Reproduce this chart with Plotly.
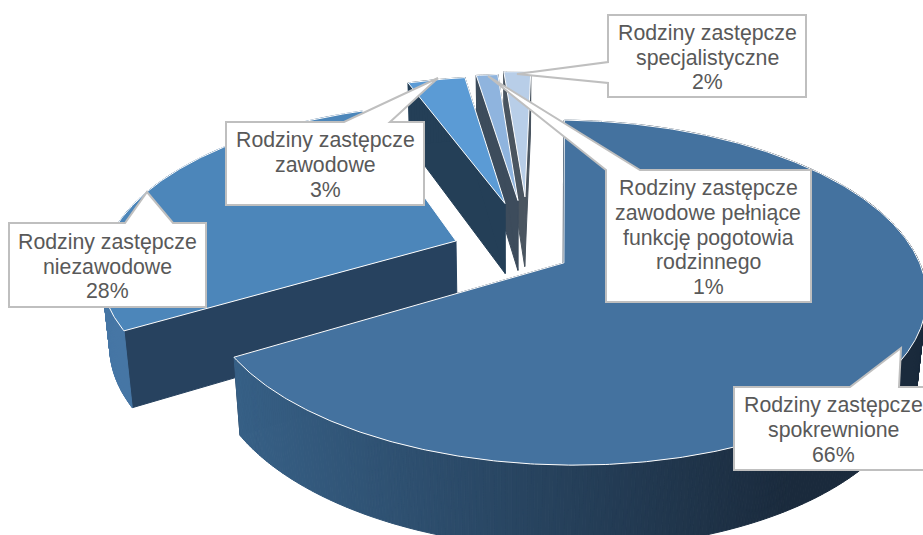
import numpy as np
import plotly.graph_objects as go

# dane wykresu
categories = [
    "Rodziny zastępcze<br>spokrewnione",
    "Rodziny zastępcze<br>niezawodowe",
    "Rodziny zastępcze<br>zawodowe",
    "Rodziny zastępcze<br>zawodowe pełniące<br>funkcję pogotowia<br>rodzinnego",
    "Rodziny zastępcze<br>specjalistyczne",
]
values = [66.0, 28.1, 3.2, 1.2, 1.5]

# kolory: wierzch, sciana, rant (lewy i prawy koniec gradientu)
top_colors = ["#44729f", "#4c86ba", "#5b9bd5", "#8fb4de", "#b8cee8"]
wall_colors = ["#1c3048", "#27425f", "#243f57", "#3d4c5c", "#4a5560"]
rim_left = [(60, 106, 148), (70, 118, 165), (36, 63, 87), (61, 76, 92), (74, 85, 96)]
rim_right = [(26, 42, 60), (60, 100, 140), (36, 63, 87), (61, 76, 92), (74, 85, 96)]

# wysuniecie wycinkow w ukladzie podstawy kola
explode_u = [0.143, -0.164, -0.024, 0.015, 0.036]
explode_v = [-0.078, 0.056, 0.30, 0.32, 0.345]

# rzut perspektywiczny
CX, CY = 513, 250
RX, RY = 351, 163
K = 0.17
M = 0.02
DEPTH = 74
ROTATION = 1.5


def project(u, v, bottom=False):
    w = 1 + K * v + (M if bottom else 0)
    h = DEPTH if bottom else 0
    return CX + RX * u / w, CY - (RY * v - h) / w


def poly(fig, pts, fill, line=None, width=1):
    xs = [p[0] for p in pts] + [pts[0][0]]
    ys = [p[1] for p in pts] + [pts[0][1]]
    fig.add_trace(go.Scatter(x=xs, y=ys, mode="lines", fill="toself", fillcolor=fill,
                             line=dict(color=line or fill, width=width),
                             hoverinfo="skip", showlegend=False))


def draw_slice(fig, i, start, end):
    eu, ev = explode_u[i], explode_v[i]
    a = np.radians(np.linspace(start, end, max(int(end - start) * 2, 8)))
    us = eu + np.sin(a)
    vs = ev + np.cos(a)

    top_pts = [project(u, v) for u, v in zip(us, vs)]
    bot_pts = [project(u, v, True) for u, v in zip(us, vs)]

    # sciany boczne (przy niezawodowych tylko przednia)
    apex_t = project(eu, ev)
    apex_b = project(eu, ev, True)
    for k in ((0,) if i == 1 else (0, -1)):
        poly(fig, [apex_t, top_pts[k], bot_pts[k], apex_b], wall_colors[i])

    # rant z gradientem
    x_min, x_max = 130, 800
    for j in range(len(a) - 1):
        t = min(max((top_pts[j][0] - x_min) / (x_max - x_min), 0), 1)
        c = [round(l + (r - l) * t) for l, r in zip(rim_left[i], rim_right[i])]
        poly(fig, [top_pts[j], top_pts[j + 1], bot_pts[j + 1], bot_pts[j]], f"rgb({c[0]},{c[1]},{c[2]})")

    # wierzch
    poly(fig, [apex_t] + top_pts, top_colors[i], "#ffffff", 1)


# kolejne katy wycinkow z wartosci
total = sum(values)
edges = ROTATION + np.cumsum([0] + values) / total * 360

fig = go.Figure()
for i in [4, 3, 2, 1, 0]:
    draw_slice(fig, i, edges[i], edges[i + 1])

# etykiety z odnosnikami: ramka (x0, y0, x1, y1), wierzcholek i podstawa odnosnika
boxes = [
    dict(box=(734, 387, 930, 470), side="top", base=(850, 899), tip=(901, 348), xc=833),
    dict(box=(9, 223, 206, 307), side="top", base=(125, 173), tip=(147, 192), xc=107),
    dict(box=(226, 122, 424, 205), side="top", base=(344, 390), tip=(438, 78), xc=325),
    dict(box=(606, 170, 811, 302), side="top", base=(606, 640), tip=(488, 76), xc=708),
    dict(box=(608, 15, 806, 97), side="left", base=(62, 83), tip=(517, 74), xc=707),
]

shapes = []
annotations = []
for i, b in enumerate(boxes):
    x0, y0, x1, y1 = b["box"]
    tx, ty = b["tip"]
    p0, p1 = b["base"]
    if b["side"] == "top":
        path = f"M{x0},{y0} L{p0},{y0} L{tx},{ty} L{p1},{y0} L{x1},{y0} L{x1},{y1} L{x0},{y1} Z"
    else:
        path = f"M{x0},{y0} L{x1},{y0} L{x1},{y1} L{x0},{y1} L{x0},{p1} L{tx},{ty} L{x0},{p0} Z"
    shapes.append(dict(type="path", path=path, xref="x", yref="y", fillcolor="#ffffff",
                       line=dict(color="#bfbfbf", width=2), layer="above"))
    lines = categories[i].split("<br>") + [f"{round(values[i])}%"]
    n = len(lines)
    mid = (y0 + y1) / 2 + 1.5
    for j, line in enumerate(lines):
        annotations.append(dict(x=b["xc"], y=mid + (j - (n - 1) / 2) * 24.7, text=line, xref="x", yref="y",
                                showarrow=False, xanchor="center", yanchor="middle",
                                font=dict(family="Liberation Sans, Arial", size=21.3, color="#595959")))

fig.update_layout(
    width=923, height=535,
    margin=dict(l=0, r=0, t=0, b=0),
    paper_bgcolor="#ffffff", plot_bgcolor="#ffffff",
    xaxis=dict(range=[0, 923], visible=False, fixedrange=True),
    yaxis=dict(range=[535, 0], visible=False, fixedrange=True),
    shapes=shapes, annotations=annotations,
    showlegend=False,
)

fig.write_html("out.html", config={"displayModeBar": False},
               post_script="document.body.style.margin='0';document.body.style.overflow='hidden';")
